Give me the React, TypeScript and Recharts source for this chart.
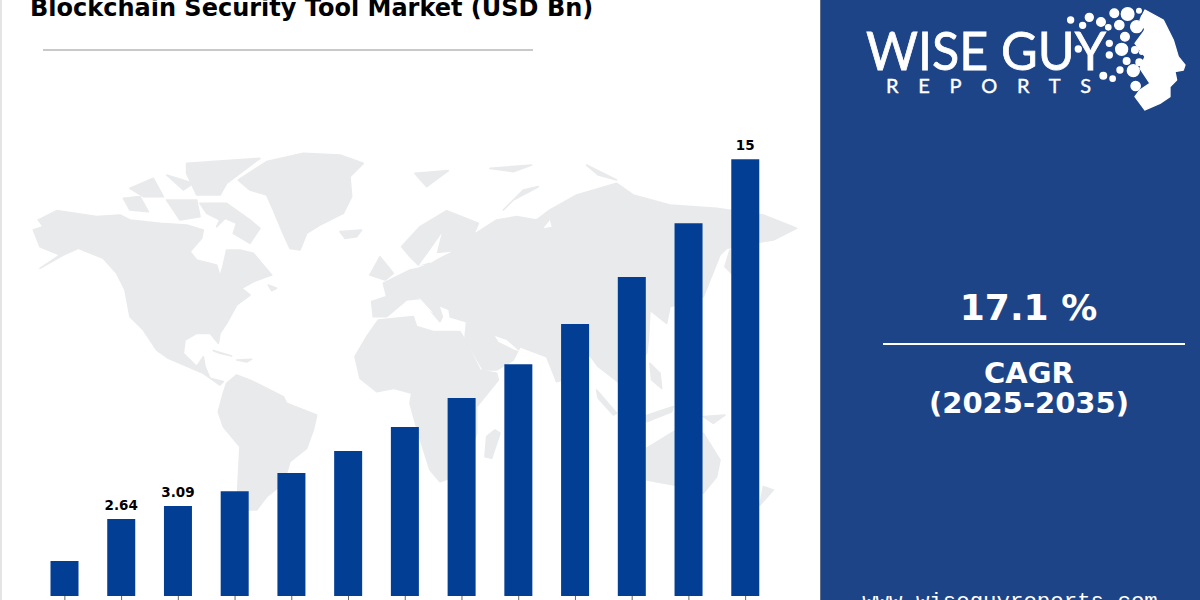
import { BarChart, Bar, XAxis, YAxis, LabelList } from 'recharts';

const years = ['2023', '2024', '2025', '2026', '2027', '2028', '2029', '2030', '2031', '2032', '2033', '2034', '2035'];
const values = [1.2, 2.64, 3.09, 3.6, 4.22, 4.98, 5.8, 6.8, 7.96, 9.34, 10.95, 12.8, 15];
const shownLabels = ['', '2.64', '3.09', '', '', '', '', '', '', '', '', '', '15'];

const data = years.map((year, i) => ({ year, value: values[i], label: shownLabels[i] }));

const MAP_GREY = '#e9eaec';

// background map
const westMap = [
  '55,240 110,212 230,230 300,225 330,240 420,250 500,255 550,270 545,295 510,335 530,360 590,375 600,410 610,375 620,330 660,330 700,340 755,405 700,425 665,445 690,465 650,495 620,550 600,580 595,610 570,580 530,580 495,600 490,640 530,680 550,650 555,680 570,715 610,725 600,735 550,700 445,655 410,630 370,570 330,530 315,450 290,400 250,355 175,325 130,345 60,385 120,345 60,320 40,270 70,260',
  '620,730 650,705 700,725 790,770 800,790 890,825 880,870 860,925 810,965 790,1030 740,1070 710,1110 650,1110 660,920 610,860 595,815 610,760',
  '655,120 740,65 850,40 960,45 1030,70 990,110 995,170 970,220 900,255 860,280 840,330 810,325 785,270 760,210 740,165 690,150',
  '960,275 1025,270 1010,290 975,295',
  '540,190 620,190 690,240 720,265 690,310 640,280 650,250 615,235 590,260 600,240 560,220',
  '310,175 360,170 385,215 330,210',
  '330,145 400,115 430,170 370,170',
  '440,105 520,130 490,150',
  '500,70 720,55 620,130 600,165 530,165 500,100',
  '440,180 530,180 540,230 480,240',
  '580,632 635,648 600,640',
  '650,660 695,658 680,666',
  '745,435 770,445 755,452',
];

const eastMap = [
  '65,485 110,470 100,430 150,405 180,390 205,385 245,370 275,350 250,345 235,370 205,375 180,350 155,320 210,260 290,212 385,250 370,285 440,240 500,230 560,240 600,210 680,165 800,130 850,165 960,195 1100,205 1240,225 1340,265 1270,300 1200,310 1130,325 1110,345 1060,470 960,500 950,550 900,510 895,600 890,640 810,730 745,680 700,620 640,720 620,725 590,650 510,620 490,660 440,690 400,690 345,595 350,545 280,525 270,545 210,475 170,480 110,530 70,530',
  '85,540 190,530 200,560 250,575 330,575 345,600 390,690 440,700 445,720 380,800 380,880 340,1000 270,1025 240,990 205,880 180,790 185,760 130,745 80,755 30,715 15,650 50,590',
  '435,870 450,880 425,955 405,950 410,890',
  '890,925 980,870 1060,880 1110,960 1100,1010 1060,1060 1000,1040 890,1020',
  '60,405 90,350 130,400 105,420',
  '195,100 295,92 230,140',
  '460,210 520,150 565,140 490,180',
  '1125,380 1140,330 1145,400',
  '1240,1040 1270,1050 1230,1095',
  '740,750 800,820 790,825 745,775',
  '900,670 930,700 935,745 905,720',
  '880,830 970,800 965,815 890,845',
  '1060,830 1125,825 1090,850',
  '710,75 800,120 745,105',
  '420,85 545,75 490,95',
];

// seas cut back out of the land
const eastSeas = [
  '435,588 470,600 510,635 490,628 445,605',
  '275,280 240,330 205,378 245,365 305,335 260,340',
  '590,205 605,260 580,265 600,240',
  '205,470 250,520 225,505',
  '270,500 295,510 300,540 280,530',
];

const headOutline =
  '975,30 1030,60 1060,120 1075,170 1095,195 1090,210 1065,215 1070,240 1050,260 1050,290 1020,310 975,330 945,290 960,270 990,250 960,205 975,170 945,130 975,90 960,60';

const headDots = [
  [752, 60, 9], [808, 52, 12], [788, 76, 9], [843, 66, 13], [883, 40, 13], [923, 42, 19], [957, 32, 7], [970, 52, 6],
  [898, 75, 14], [950, 80, 18], [865, 82, 8], [915, 110, 13], [980, 92, 7], [868, 130, 9], [905, 148, 18], [868, 165, 9],
  [945, 150, 10], [965, 157, 6], [775, 147, 9], [920, 183, 10], [958, 187, 10], [900, 210, 9], [940, 212, 18],
  [983, 212, 13], [850, 227, 10], [878, 236, 8], [947, 258, 14],
];

const sans = '"DejaVu Sans", sans-serif';

export default function App() {
  return (
    <div style={{ position: 'absolute', left: 0, top: 0, width: 1200, height: 600, overflow: 'hidden', background: '#fff' }}>
      <svg width={1200} height={600} style={{ position: 'absolute', left: 0, top: 0 }}>
        <rect x={0} y={0} width={2} height={600} fill="#e4e4e4" />
        <g transform="translate(20 140) scale(0.3333)" fill={MAP_GREY} stroke={MAP_GREY} strokeWidth={5} strokeLinejoin="round">
          {westMap.map((p, i) => <polygon key={i} points={p} />)}
        </g>
        <g transform="translate(350 140) scale(0.3333)" fill={MAP_GREY} stroke={MAP_GREY} strokeWidth={5} strokeLinejoin="round">
          {eastMap.map((p, i) => <polygon key={i} points={p} />)}
        </g>
        <g transform="translate(350 140) scale(0.3333)" fill="#fff">
          {eastSeas.map((p, i) => <polygon key={i} points={p} />)}
        </g>
      </svg>

      <div style={{ position: 'absolute', left: 0, top: 0 }}>
        <BarChart width={820} height={600} data={data} margin={{ top: 130, right: 46, bottom: 0, left: 36.5 }}>
          <XAxis
            dataKey="year"
            height={4}
            axisLine={false}
            tickSize={4}
            tickLine={{ stroke: '#666' }}
            tickFormatter={() => ''}
            interval={0}
          />
          <YAxis hide domain={[0, 16]} />
          <Bar dataKey="value" fill="#023f94" barSize={28} isAnimationActive={false}>
            <LabelList
              dataKey="label"
              position="top"
              offset={9}
              style={{ fontFamily: sans, fontSize: 13.5, fontWeight: 700, fill: '#000' }}
            />
          </Bar>
        </BarChart>
      </div>

      <svg width={1200} height={600} style={{ position: 'absolute', left: 0, top: 0 }}>
        <text x={30} y={15.5} fontFamily={sans} fontWeight={700} fontSize={24} fill="#000">
          Blockchain Security Tool Market (USD Bn)
        </text>
        <rect x={43} y={49} width={490} height={2} fill="#c9c9c9" />

        <rect x={820} y={0} width={380} height={600} fill="#1e4488" />
        <rect x={820} y={0} width={1} height={600} fill="#5f6f8c" />

        <g transform="translate(820 0) scale(0.3333)" fill="#fff" stroke="#fff" strokeWidth={4} strokeLinejoin="round">
          <polygon points={headOutline} />
          {headDots.map(([cx, cy, r], i) => <circle key={i} cx={cx} cy={cy} r={r} />)}
        </g>
        <text x={866} y={70} fontFamily="Lato, sans-serif" fontSize={53} fill="#fff" stroke="#fff" strokeWidth={0.8} textLength={240} lengthAdjust="spacingAndGlyphs">
          WISE GUY
        </text>
        <text x={886} y={93} fontFamily="Lato, sans-serif" fontSize={20} fill="#fff" stroke="#fff" strokeWidth={0.4} textLength={205}>
          REPORTS
        </text>

        <text x={1028.5} y={320} textAnchor="middle" fontFamily={sans} fontWeight={700} fontSize={36} fill="#fff">
          17.1 %
        </text>
        <rect x={883} y={343} width={302} height={2} fill="#fff" />
        <text x={1029} y={383} textAnchor="middle" fontFamily={sans} fontWeight={700} fontSize={29} fill="#fff">
          CAGR
        </text>
        <text x={1029} y={413} textAnchor="middle" fontFamily={sans} fontWeight={700} fontSize={29} fill="#fff">
          (2025-2035)
        </text>
        <text x={1010} y={608} textAnchor="middle" fontFamily='"Liberation Mono", monospace' fontSize={22.4} fill="#fff">
          www.wiseguyreports.com
        </text>
      </svg>
    </div>
  );
}
